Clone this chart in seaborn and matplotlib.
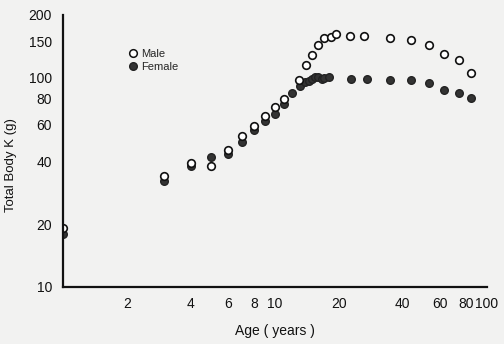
import matplotlib
matplotlib.use("Agg")
import matplotlib.pyplot as plt
from matplotlib.ticker import FixedLocator, NullFormatter, FixedFormatter
from matplotlib.lines import Line2D
import seaborn as sns
import pandas as pd

male_age = [1.0, 3, 4, 5, 6, 7, 8, 9, 10, 11, 13, 14, 15, 16, 17, 18.3, 19.3,
            22.6, 26.4, 35, 44, 53, 63, 74, 84]
male_k = [19.1, 34.0, 39.0, 37.9, 45.1, 52.5, 59.2, 65.8, 72.6, 79.3, 98.2, 114.8,
          128.9, 143.9, 154.8, 157.0, 161.8, 159.3, 159.3, 156.0, 151.4, 144.5,
          129.5, 121.7, 105.6]
female_age = [1.0, 3, 4, 5, 6, 7, 8, 9, 10, 11, 12, 13.1, 13.8, 14.4, 14.9, 15.4,
              16.0, 16.6, 17.1, 18.0, 22.8, 27.3, 35, 44, 53, 63, 74, 84]
female_k = [18.0, 32.2, 37.9, 41.8, 43.3, 49.2, 56.1, 61.9, 67.0, 74.7, 84.9, 92.0,
            95.7, 96.8, 98.6, 101.0, 101.0, 99.3, 100.0, 101.0, 98.6, 98.9, 97.5,
            98.2, 95.0, 87.5, 84.9, 80.6]

x_major = [2, 4, 6, 8, 10, 20, 40, 60, 80, 100]
x_minor = [3, 5, 7, 9, 15, 30, 50, 70, 90]
y_major = [10, 20, 40, 60, 80, 100, 150, 200]
y_minor = [30, 50, 70, 90]

male = pd.DataFrame({"age": male_age, "k": male_k})
female = pd.DataFrame({"age": female_age, "k": female_k})

sns.set_style("white")
plt.rcParams["font.family"] = ["Liberation Sans", "DejaVu Sans"]

bg = "#f2f2f1"
fig = plt.figure(figsize=(5.04, 3.44), dpi=100, facecolor=bg)
ax = fig.add_axes([63 / 504, 57 / 344, 424 / 504, 272 / 344])
ax.set_facecolor(bg)

sns.scatterplot(data=female, x="age", y="k", ax=ax, s=30, color="#333333",
                edgecolor="#222222", linewidth=1.0, zorder=3)
sns.scatterplot(data=male, x="age", y="k", ax=ax, s=30, facecolor="white",
                edgecolor="#111111", linewidth=1.2, zorder=4)

ax.set_xscale("log")
ax.set_yscale("log")
ax.set_xlim(1, 100)
ax.set_ylim(10, 200)

ax.xaxis.set_major_locator(FixedLocator(x_major))
ax.xaxis.set_major_formatter(FixedFormatter([str(v) for v in x_major]))
ax.xaxis.set_minor_locator(FixedLocator(x_minor))
ax.xaxis.set_minor_formatter(NullFormatter())
ax.yaxis.set_major_locator(FixedLocator(y_major))
ax.yaxis.set_major_formatter(FixedFormatter([str(v) for v in y_major]))
ax.yaxis.set_minor_locator(FixedLocator(y_minor))
ax.yaxis.set_minor_formatter(NullFormatter())

for s in ["top", "right"]:
    ax.spines[s].set_visible(False)
for s in ["left", "bottom"]:
    ax.spines[s].set_linewidth(1.6)
    ax.spines[s].set_color("#111111")
    ax.spines[s].set_zorder(5)

ax.tick_params(axis="both", which="major", direction="out", length=5, width=1.1,
               color="#111111", labelsize=10, labelcolor="#111111", pad=3)
ax.tick_params(axis="both", which="minor", direction="out", length=3.5, width=1.0,
               color="#111111")
ax.tick_params(axis="x", which="major", length=3.5, pad=4)
ax.tick_params(axis="x", which="minor", length=3)

ax.set_xlabel("Age ( years )", fontsize=10, color="#111111", labelpad=9)
ax.set_ylabel("Total Body K (g)", fontsize=9.5, color="#111111")
ax.yaxis.set_label_coords(-0.108, 0.45)

handles = [
    Line2D([], [], marker="o", linestyle="none", markersize=5.5, markerfacecolor="white",
           markeredgecolor="#111111", markeredgewidth=1.1, label="Male"),
    Line2D([], [], marker="o", linestyle="none", markersize=5.5, markerfacecolor="#333333",
           markeredgecolor="#222222", markeredgewidth=1.0, label="Female"),
]
ax.legend(handles=handles, loc="upper left", bbox_to_anchor=(0.14, 0.89),
          frameon=False, fontsize=8, handletextpad=0.1, labelspacing=0.2,
          handlelength=1.2, borderaxespad=0)

fig.savefig("out.png", dpi=100, facecolor=bg)
